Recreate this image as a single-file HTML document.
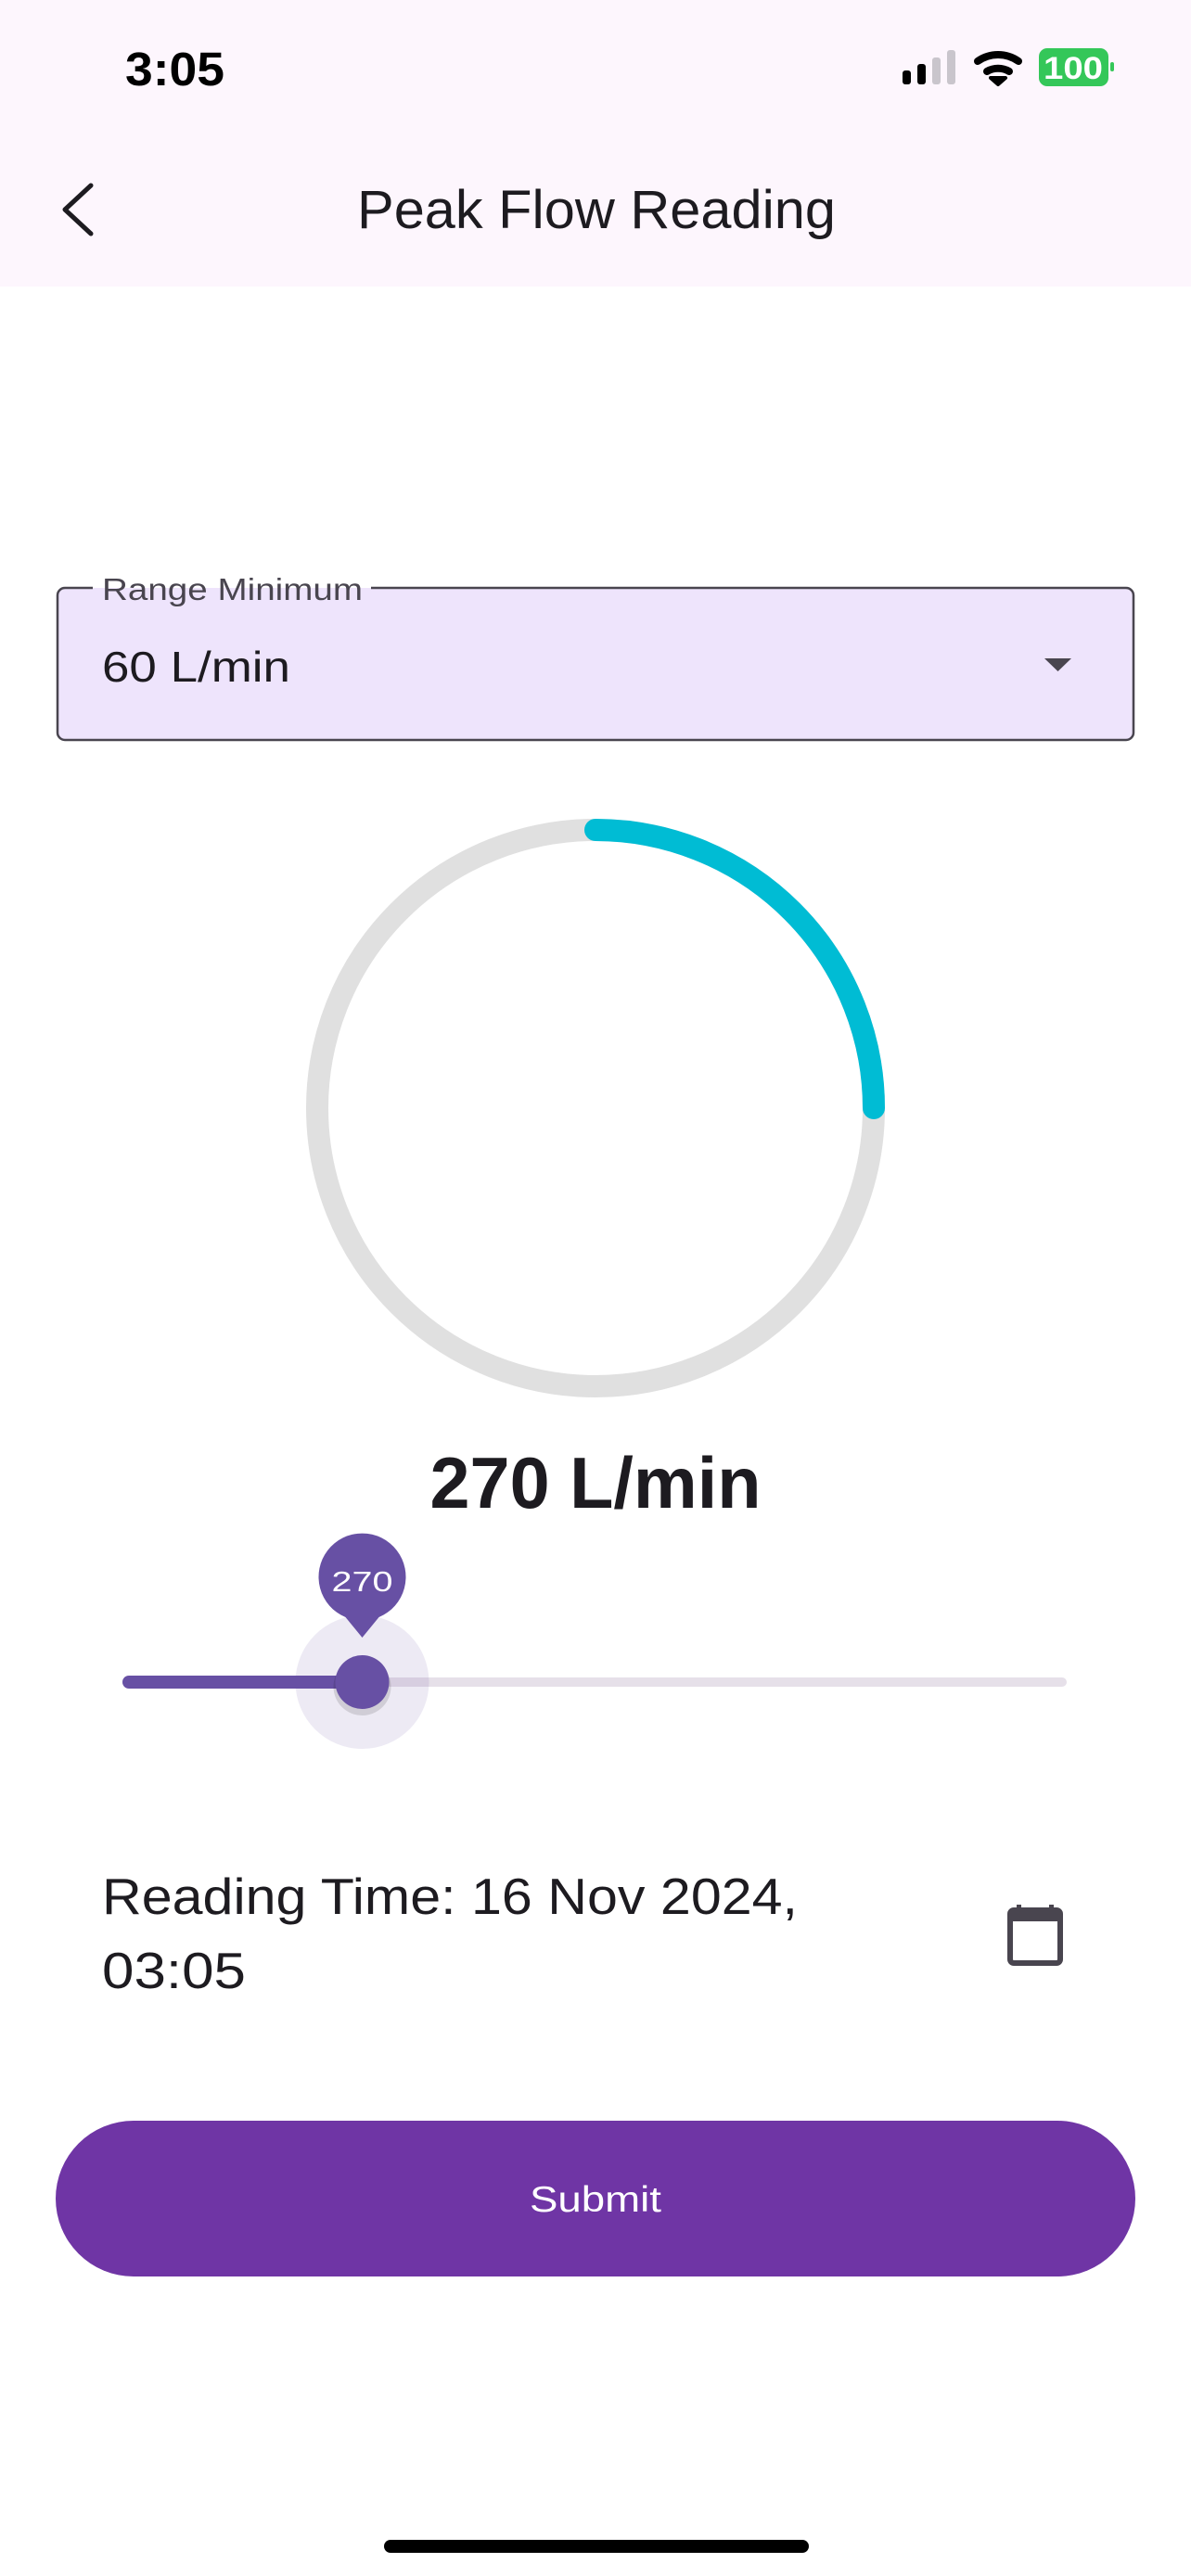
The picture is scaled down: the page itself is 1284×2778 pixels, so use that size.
<!DOCTYPE html>
<html><head><meta charset="utf-8">
<style>
html,body{margin:0;padding:0;background:#fff;}
svg{display:block;}
text{font-family:"Liberation Sans",sans-serif;}
</style></head>
<body>
<svg width="1284" height="2778" viewBox="0 0 1284 2778" xmlns="http://www.w3.org/2000/svg">
  <rect x="0" y="0" width="1284" height="2778" fill="#ffffff"/>
  <rect x="0" y="0" width="1284" height="309" fill="#fdf6fd"/>
  <text x="135" y="92" font-size="51" font-weight="bold" fill="#000" textLength="107" lengthAdjust="spacingAndGlyphs">3:05</text>
  <g>
    <rect x="973" y="76" width="9" height="15" rx="3" fill="#000"/>
    <rect x="989" y="69" width="9" height="22" rx="3" fill="#000"/>
    <rect x="1005" y="62" width="9" height="29" rx="3" fill="#c9c5cc"/>
    <rect x="1021" y="54" width="9" height="37" rx="3" fill="#c9c5cc"/>
  </g>
  <g fill="none" stroke="#000" stroke-width="8" stroke-linecap="round">
    <path d="M1054 66 A38 38 0 0 1 1098 66"/>
    <path d="M1064 77 A24 24 0 0 1 1088 77"/>
    <path d="M1068 84 L1076 91 L1084 84 Z" fill="#000" stroke-width="4" stroke-linejoin="round"/>
  </g>
  <g>
    <rect x="1120" y="52" width="75" height="41" rx="9" fill="#34c759"/>
    <rect x="1197" y="67" width="4" height="10" rx="2" fill="#34c759"/>
    <text x="1157" y="85" font-size="34" font-weight="bold" fill="#fff" text-anchor="middle" textLength="64" lengthAdjust="spacingAndGlyphs">100</text>
  </g>
  <path d="M98 200 L70 226 L98 252" fill="none" stroke="#1d1b20" stroke-width="5" stroke-linecap="round" stroke-linejoin="round"/>
  <text x="385" y="246" font-size="58" fill="#1d1b20" textLength="516" lengthAdjust="spacingAndGlyphs">Peak Flow Reading</text>

  <g>
    <rect x="62" y="634" width="1160" height="164" rx="8" fill="#eee4fc" stroke="#49454f" stroke-width="2.5"/>
    <rect x="100" y="620" width="300" height="20" fill="#ffffff"/>
    <rect x="100" y="634" width="300" height="8" fill="#eee4fc"/>
    <text x="110" y="647" font-size="33" fill="#49454f" textLength="281" lengthAdjust="spacingAndGlyphs">Range Minimum</text>
    <text x="110" y="735" font-size="46" fill="#1d1b20" textLength="203" lengthAdjust="spacingAndGlyphs">60 L/min</text>
    <path d="M1126 710 L1155 710 L1140.5 724 Z" fill="#49454f"/>
  </g>

  <g id="gauge"></g>

  <text x="642" y="1626" font-size="78" font-weight="bold" fill="#1d1b20" text-anchor="middle" textLength="357" lengthAdjust="spacingAndGlyphs">270 L/min</text>

  <g id="slider"></g>

  <text x="110" y="2064" font-size="55" fill="#1d1b20" textLength="750" lengthAdjust="spacingAndGlyphs">Reading Time: 16 Nov 2024,</text>
  <text x="110" y="2144" font-size="55" fill="#1d1b20" textLength="155" lengthAdjust="spacingAndGlyphs">03:05</text>
  <g>
    <rect x="1089" y="2060" width="54" height="57" rx="4" fill="none" stroke="#49454f" stroke-width="6"/>
    <rect x="1089" y="2060" width="54" height="12" fill="#49454f"/>
    <rect x="1096" y="2054" width="5" height="10" fill="#49454f"/>
    <rect x="1131" y="2054" width="5" height="10" fill="#49454f"/>
  </g>

  <g>
    <rect x="60" y="2287" width="1164" height="168" rx="84" fill="#6f35a5"/>
    <text x="642" y="2385" font-size="39" fill="#ffffff" text-anchor="middle" textLength="142" lengthAdjust="spacingAndGlyphs">Submit</text>
  </g>
  <rect x="414" y="2739" width="458" height="14" rx="7" fill="#000"/>
</svg>
<script>
const readingValue = [270];
const rangeMin = [60];
const rangeMax = [900];

const NS = 'http://www.w3.org/2000/svg';
function frac(v){ return (v - rangeMin[0]) / (rangeMax[0] - rangeMin[0]); }

// gauge
const g = document.getElementById('gauge');
const cx = 642, cy = 1195, r = 300;
const bg = document.createElementNS(NS, 'circle');
bg.setAttribute('cx', cx); bg.setAttribute('cy', cy); bg.setAttribute('r', r);
bg.setAttribute('fill', 'none'); bg.setAttribute('stroke', '#e0e0e0'); bg.setAttribute('stroke-width', '24');


g.appendChild(bg);
const f = frac(readingValue[0]);
const ang = -Math.PI/2 + f * 2 * Math.PI;
const ex = cx + r * Math.cos(ang), ey = cy + r * Math.sin(ang);
const arc = document.createElementNS(NS, 'path');
arc.setAttribute('d', `M${cx} ${cy - r} A${r} ${r} 0 ${f > 0.5 ? 1 : 0} 1 ${ex} ${ey}`);
arc.setAttribute('fill', 'none'); arc.setAttribute('stroke', '#00bcd4'); arc.setAttribute('stroke-width', '24'); arc.setAttribute('stroke-linecap', 'round');


g.appendChild(arc);

// slider
const s = document.getElementById('slider');
const x0 = 139, x1 = 1145, sy = 1814;
const tx = x0 + f * (x1 - x0);
function add(tag, attrs){ const e = document.createElementNS(NS, tag); for (const k in attrs) e.setAttribute(k, attrs[k]); s.appendChild(e); return e; }
const inactive = add('line', {x1: tx, y1: sy, x2: x1, y2: sy, stroke: '#e6e0e9', 'stroke-width': 10, 'stroke-linecap': 'round'});


const active = add('line', {x1: x0, y1: sy, x2: tx, y2: sy, stroke: '#6750a4', 'stroke-width': 14, 'stroke-linecap': 'round'});


const halo = add('circle', {cx: tx, cy: sy, r: 72, fill: '#6750a4', 'fill-opacity': 0.12});


const shadow = add('circle', {cx: tx, cy: sy + 5, r: 31, fill: '#000', 'fill-opacity': 0.12});


const thumb = add('circle', {cx: tx, cy: sy, r: 29, fill: '#6750a4'});


const bubble = add('path', {d: `M${tx} 1766 L${tx - 18} 1744 A47 47 0 1 1 ${tx + 18} 1744 Z`, fill: '#6750a4'});


const bt = add('text', {x: tx, y: 1716, 'font-size': 31, fill: '#fff', 'text-anchor': 'middle', textLength: 66, lengthAdjust: 'spacingAndGlyphs'});
bt.textContent = String(readingValue[0]);


</script>
</body></html>
